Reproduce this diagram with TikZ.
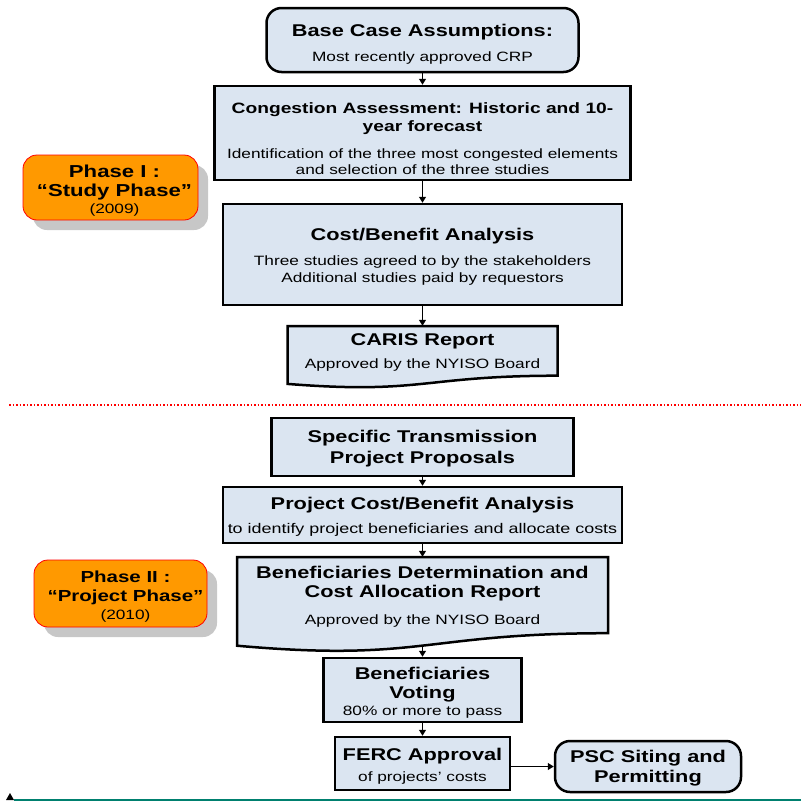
\documentclass[tikz,border=0pt]{standalone}
\usepackage{fontspec}
\setmainfont{Liberation Sans}[FakeStretch=1.28]
\usetikzlibrary{arrows.meta}
\definecolor{boxblue}{HTML}{DBE5F1}
\definecolor{phaseorange}{HTML}{FF9900}
\definecolor{tealline}{HTML}{00806F}
\newcommand\cTitle{\fontsize{17}{19}\selectfont\bfseries}
\newcommand\cTitleS{\fontsize{15}{17}\selectfont\bfseries}
\newcommand\cBody{\fontsize{13.5}{16}\selectfont}
\newcommand\cBodyL{\fontsize{14}{16}\selectfont}
\newcommand\cPhase{\fontsize{17.3}{19}\selectfont\bfseries}
\newcommand\cPhaseS{\fontsize{16}{19}\selectfont\bfseries}
\newcommand\tstrut[1]{\rule{0pt}{#1pt}}
\tikzset{
  box/.style={draw=black, line width=2.5pt, fill=boxblue, align=center, inner sep=0pt, font=\cBody},
  rbox/.style={box, rounded corners=15pt},
  txt/.style={align=center, inner sep=0pt, font=\cBody},
  phase/.style={draw=red, line width=0.8pt, fill=phaseorange, rounded corners=14pt, align=center, inner sep=0pt, font=\cBody},
  shadow/.style={fill=black!22, rounded corners=14pt},
  arr/.style={line width=1.2pt, -{Triangle[length=6pt,width=7pt]}},
}
\begin{document}
\begin{tikzpicture}[x=1pt,y=-1pt]
\useasboundingbox (0,0) rectangle (801,803);

% ---- Phase I ----
\fill[shadow] (33,165) rectangle (208,230);
\node[phase, minimum width=175pt, minimum height=65pt] (ph1) at (110.5,187.5)
  {\hspace*{8pt}{\cPhase\tstrut{18.6}Phase I :}\\[3pt]\hspace*{8pt}{\cPhase “Study Phase”}\\[1pt]\hspace*{8pt}(2009)};

% ---- Phase II ----
\fill[shadow] (44,570) rectangle (217,637);
\node[phase, minimum width=173pt, minimum height=67pt] (ph2) at (120.5,593.5)
  {\hspace*{10pt}{\cPhaseS\tstrut{18.7}Phase II :}\\[3pt]\hspace*{10pt}{\cPhaseS “Project Phase”}\\[2pt]\hspace*{10pt}(2010)};

% ---- Phase I flow ----
\node[rbox, minimum width=312pt, minimum height=64pt] (base) at (422.5,40)
  {{\cTitle\tstrut{20.4}Base Case Assumptions:}\\[9pt]Most recently approved CRP};
\node[box, minimum width=416pt, minimum height=94pt] (cong) at (422.5,133)
  {{\cTitleS\tstrut{22}Congestion Assessment: Historic and 10-}\\[2pt]{\cTitleS year forecast}\\[11pt]Identification of the three most congested elements\\and selection of the three studies};
\node[box, minimum width=399pt, minimum height=101pt] (cost) at (422.5,254.5)
  {{\cTitle\tstrut{17.4}Cost/Benefit Analysis}\\[9pt]Three studies agreed to by the stakeholders\\[1pt]Additional studies paid by requestors};
% CARIS document shape
\filldraw[fill=boxblue, draw=black, line width=2.5pt, line join=miter]
  (287.5,326) -- (557.5,326) -- (557.5,375.7) .. controls (422.5,375.7) and (422.5,394.6) .. (287.5,383.9) -- cycle;
\node[txt, minimum width=270pt, minimum height=50pt] (caris) at (422.5,351)
  {{\cTitle\tstrut{15.4}CARIS Report}\\[7pt]Approved by the NYISO Board};

% ---- separator ----
\draw[red, line width=1.5pt, dotted] (9,405) -- (801,405);

% ---- Phase II flow ----
\node[box, minimum width=302pt, minimum height=58pt] (spec) at (422.5,447)
  {{\cTitle\tstrut{15.4}Specific Transmission}\\[5pt]{\cTitle Project Proposals}};
\node[box, minimum width=399pt, minimum height=56pt] (proj) at (422.5,515)
  {{\cTitle\tstrut{16.4}Project Cost/Benefit Analysis}\\[8pt]{\cBodyL to identify project beneficiaries and allocate costs}};
% Beneficiaries Determination document shape
\filldraw[fill=boxblue, draw=black, line width=2.5pt, line join=miter]
  (237,557) -- (608,557) -- (608,633.2) .. controls (422.5,633.2) and (422.5,662.2) .. (237,645.7) -- cycle;
\node[txt, minimum width=371pt, minimum height=80pt] (bendet) at (422.5,597)
  {{\cTitle Beneficiaries Determination and}\\[3pt]{\cTitle Cost Allocation Report}\\[11pt]Approved by the NYISO Board};
\coordinate (bendetwave) at (422.5,645.6);
\node[box, minimum width=198pt, minimum height=64pt] (vote) at (422.5,690)
  {{\cTitle\tstrut{18.4}Beneficiaries}\\[3pt]{\cTitle Voting}\\[1pt]80\% or more to pass};
\node[box, minimum width=175pt, minimum height=53pt] (ferc) at (422.5,763.5)
  {{\cTitle\tstrut{17.4}FERC Approval}\\[5pt]of projects’ costs};
\node[rbox, minimum width=186pt, minimum height=51pt] (psc) at (648,766.5)
  {{\cTitle\tstrut{15.4}PSC Siting and}\\[4pt]{\cTitle Permitting}};

% ---- connectors ----
\draw[arr] (base.south) -- (cong.north);
\draw[arr] (cong.south) -- (cost.north);
\draw[arr] (cost.south) -- (caris.north);
\draw[arr] (spec.south) -- (proj.north);
\draw[arr] (proj.south) -- (bendet.north);
\draw[arr] (bendetwave) -- (vote.north);
\draw[arr] (vote.south) -- (ferc.north);
\draw[arr] (ferc.east |- psc.west) -- (psc.west);

% ---- bottom rule ----
\draw[tealline, line width=2.5pt] (14,800) -- (801,800);
\fill[black] (6,800) -- (14,800) -- (10,793) -- cycle;
\end{tikzpicture}
\end{document}
